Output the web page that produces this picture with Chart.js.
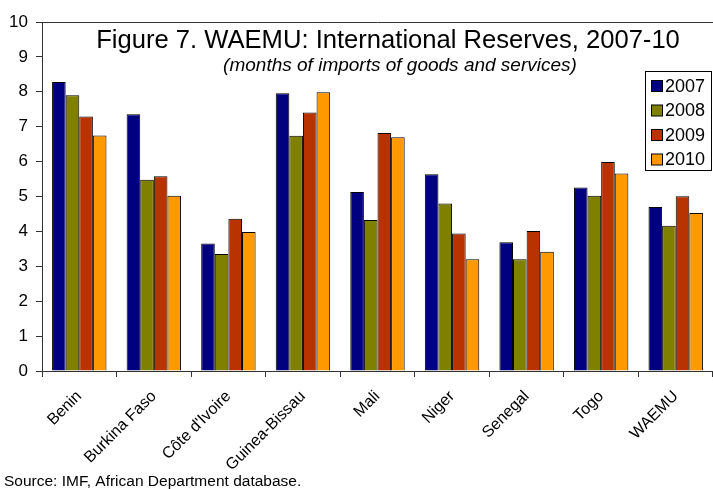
<!DOCTYPE html>
<html>
<head>
<meta charset="utf-8">
<script src="https://cdn.jsdelivr.net/npm/chart.js@4"></script>
<style>
html,body{margin:0;padding:0;background:#fff;}
#wrap{position:relative;width:713px;height:489px;}
</style>
</head>
<body>
<div id="wrap"><canvas id="c" width="713" height="489"></canvas></div>
<script>
const categories = ['Benin','Burkina Faso',"Côte d'Ivoire",'Guinea-Bissau','Mali','Niger','Senegal','Togo','WAEMU'];
const years = ['2007','2008','2009','2010'];
const v2007 = [8.28,7.36,3.65,7.96,5.13,5.64,3.69,5.26,4.70];
const v2008 = [7.90,5.48,3.35,6.74,4.33,4.80,3.20,5.02,4.16];
const v2009 = [7.29,5.58,4.36,7.41,6.82,3.94,4.01,5.99,5.01];
const v2010 = [6.75,5.02,3.98,7.99,6.70,3.20,3.42,5.66,4.53];
const yMin = 0, yMax = 10, yStep = 1;
const titleText = 'Figure 7. WAEMU: International Reserves, 2007-10';
const subtitleText = '(months of imports of goods and services)';
const sourceText = 'Source: IMF, African Department database.';
const colors = ['#000080','#808000','#B83300','#FF9900'];
const seriesValues = [v2007, v2008, v2009, v2010];

const FONT = "'Liberation Sans', Arial, sans-serif";

const overlay = {
  id: 'overlay',
  afterDraw(chart) {
    const ctx = chart.ctx;
    const a = chart.chartArea;
    ctx.save();
    ctx.strokeStyle = '#333';
    ctx.lineWidth = 1;
    ctx.beginPath();
    ctx.moveTo(a.left, a.top + 0.5);
    ctx.lineTo(a.right, a.top + 0.5);
    ctx.stroke();
    ctx.fillStyle = '#000';
    ctx.textAlign = 'center';
    ctx.textBaseline = 'alphabetic';
    ctx.font = '25.6px ' + FONT;
    ctx.fillText(titleText, 388, 48);
    ctx.font = 'italic 19px ' + FONT;
    ctx.fillText(subtitleText, 400, 71);
    const lx = 645, ly = 71, lw = 66, lh = 99;
    ctx.fillStyle = '#fff';
    ctx.fillRect(lx, ly, lw, lh);
    ctx.strokeStyle = '#000';
    ctx.strokeRect(lx + 0.5, ly + 0.5, lw, lh);
    ctx.font = '18px ' + FONT;
    ctx.textAlign = 'left';
    ctx.textBaseline = 'middle';
    chart.data.datasets.forEach((ds, i) => {
      const cy = 86 + i * 24.5;
      ctx.fillStyle = ds.backgroundColor;
      ctx.fillRect(651, cy - 5.5, 11, 11);
      ctx.strokeStyle = '#000';
      ctx.strokeRect(651.5, cy - 5.5, 11, 11);
      ctx.fillStyle = '#000';
      ctx.fillText(ds.label, 665, cy + 1);
    });
    ctx.font = '15.5px ' + FONT;
    ctx.textBaseline = 'alphabetic';
    ctx.fillStyle = '#000';
    ctx.fillText(sourceText, 4, 486);
    ctx.restore();
  }
};

new Chart(document.getElementById('c'), {
  type: 'bar',
  data: {
    labels: categories,
    datasets: years.map((y, i) => ({
      label: y,
      data: seriesValues[i],
      backgroundColor: colors[i],
      borderColor: '#000',
      borderWidth: 1,
      categoryPercentage: 0.73,
      barPercentage: 1.0
    }))
  },
  options: {
    responsive: false,
    animation: false,
    layout: { padding: { top: 22, right: 0, left: 0, bottom: 0 } },
    plugins: { legend: { display: false }, tooltip: { enabled: false }, title: { display: false } },
    scales: {
      x: {
        afterFit(s) { s.height = 118; },
        grid: { display: true, offset: true, drawOnChartArea: false, drawTicks: true, tickLength: 6, color: '#333' },
        border: { display: true, color: '#333', width: 1 },
        ticks: { minRotation: 45, maxRotation: 45, padding: 10, color: '#000', font: { family: FONT, size: 16 } }
      },
      y: {
        min: yMin, max: yMax,
        afterFit(s) { s.width = 42; },
        grid: { display: true, drawOnChartArea: false, drawTicks: true, tickLength: 6, color: '#333' },
        border: { display: true, color: '#333', width: 1 },
        ticks: { stepSize: yStep, padding: 8, color: '#000', font: { family: FONT, size: 17 } }
      }
    }
  },
  plugins: [overlay]
});
</script>
</body>
</html>
